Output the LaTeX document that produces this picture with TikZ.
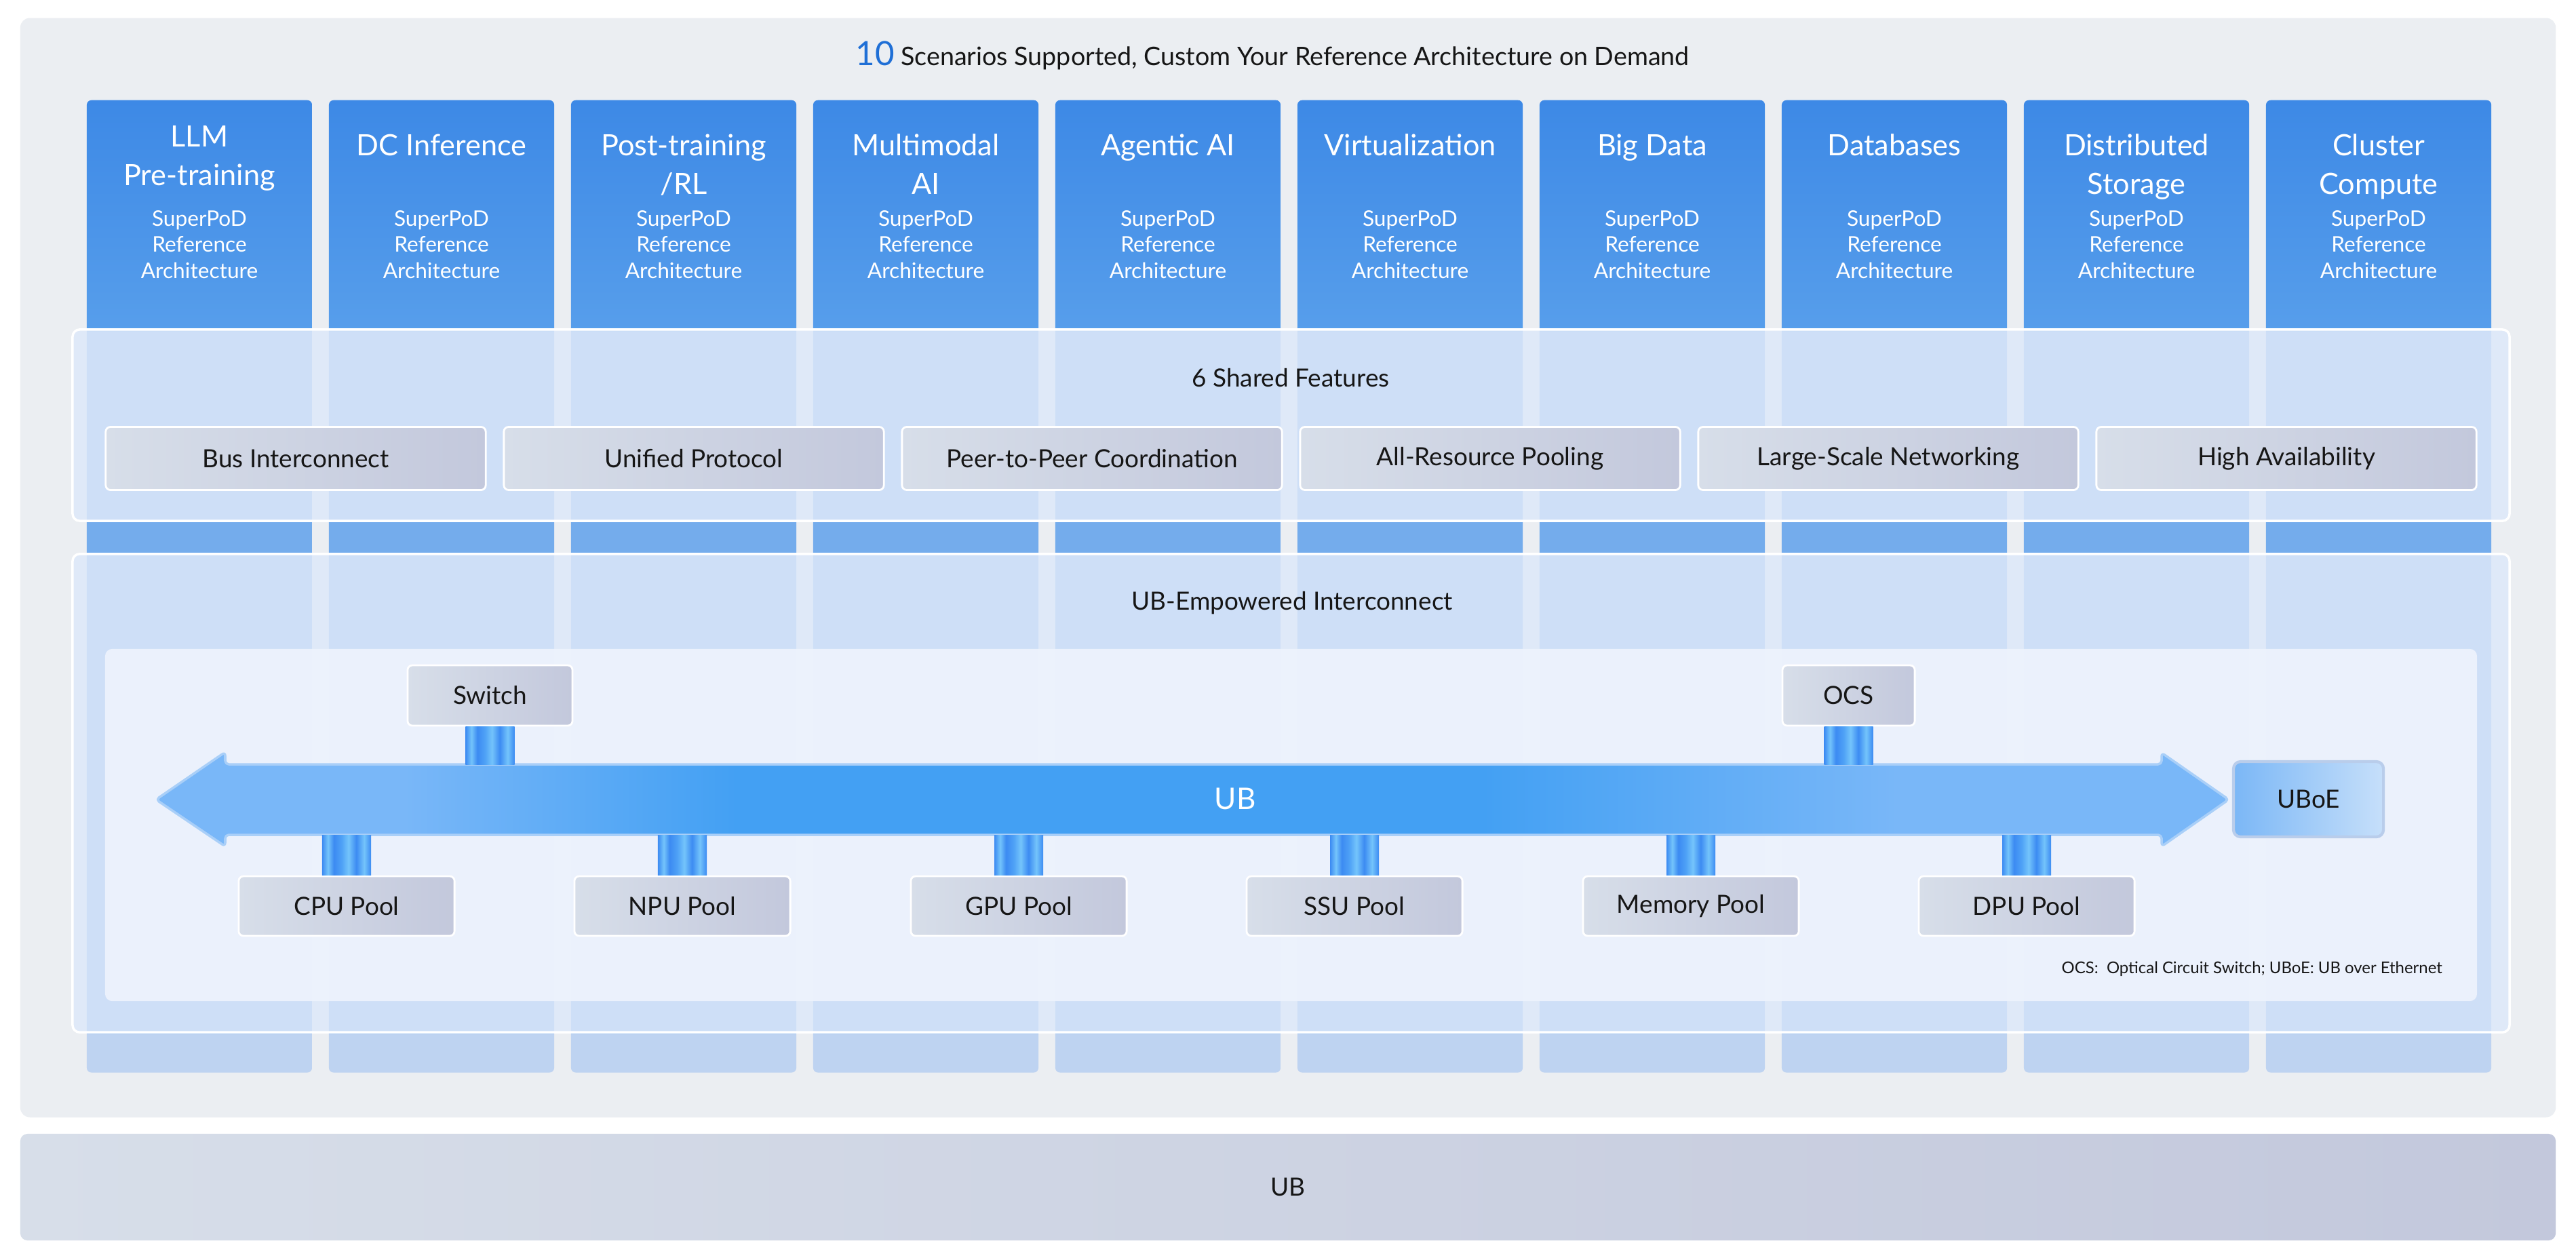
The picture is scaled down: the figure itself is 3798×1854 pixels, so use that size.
\documentclass[tikz,border=0pt]{standalone}
\usepackage{fontspec}
\setmainfont{Lato}
\usetikzlibrary{positioning,fadings}

\definecolor{pagegray}{HTML}{EBEEF2}
\definecolor{coltop}{HTML}{3D89E6}
\definecolor{colmid}{HTML}{579EEB}
\definecolor{colpale}{HTML}{74ACEC}
\definecolor{colfade}{HTML}{BED3F1}
\definecolor{panelblue}{HTML}{DEE9FA}
\definecolor{innerblue}{HTML}{EEF3FD}
\definecolor{boxleft}{HTML}{D7DEE9}
\definecolor{boxright}{HTML}{C3C8DC}
\definecolor{ublight}{HTML}{79B7F8}
\definecolor{ubdark}{HTML}{43A0F3}
\definecolor{ubedge}{HTML}{A9CFF8}
\definecolor{ubstreak}{HTML}{72D2FD}
\definecolor{stubdark}{HTML}{3C8BF2}
\definecolor{stubmid}{HTML}{4FA2F6}
\definecolor{stublight}{HTML}{74C4FB}
\definecolor{uboeleft}{HTML}{7BB7F6}
\definecolor{uboeright}{HTML}{C6DFFA}
\definecolor{uboeedge}{HTML}{B9CDEB}
\definecolor{numblue}{HTML}{1F6FD6}
\definecolor{ink}{HTML}{161616}

% column body: dark top, pale middle, faded foot
\pgfdeclareverticalshading{colshade}{100bp}{%
  color(0bp)=(colfade); color(27.02bp)=(colfade);
  color(27.03bp)=(colpale); color(63.1bp)=(colpale);
  color(63.11bp)=(colmid); color(75bp)=(coltop); color(100bp)=(coltop)}
% UB bus body
\pgfdeclarehorizontalshading{ubshade}{100bp}{%
  color(0bp)=(ublight); color(31bp)=(ublight); color(39bp)=(ubdark);
  color(57bp)=(ubdark); color(67bp)=(ublight); color(100bp)=(ublight)}
% striped link stubs
\pgfdeclarehorizontalshading{stubshade}{100bp}{%
  color(0bp)=(stubdark); color(25bp)=(stubdark); color(31bp)=(stublight);
  color(37bp)=(stubdark); color(45bp)=(stubmid); color(52bp)=(stublight);
  color(60bp)=(stubdark); color(68bp)=(stublight); color(75bp)=(stubdark);
  color(100bp)=(stubdark)}
\tikzfading[name=streakfade, left color=transparent!100,
  middle color=transparent!0, right color=transparent!100]

\begin{document}
\begin{tikzpicture}[x=0.01cm, y=-0.01cm,
    mystage/.style={fill=pagegray, rounded corners=4pt, inner sep=0pt,
      minimum width=37.36cm, minimum height=16.2cm},
    mycol/.style={shading=colshade, rounded corners=2pt, anchor=north,
      inner sep=0pt, minimum width=3.32cm, minimum height=14.33cm},
    mytitle/.style={font=\fontsize{12.3}{16.2}\selectfont, text=white,
      align=center, anchor=north, inner sep=0pt},
    mysub/.style={font=\fontsize{9}{10.9}\selectfont, text=white,
      align=center, anchor=north, inner sep=0pt},
    mypanel/.style={fill=panelblue, fill opacity=0.85, draw=white,
      line width=1pt, rounded corners=3pt, inner sep=0pt,
      minimum width=35.91cm},
    mylabel/.style={font=\fontsize{10.5}{12}\selectfont, text=ink},
    mybox/.style={left color=boxleft, right color=boxright, draw=white,
      line width=0.8pt, rounded corners=2pt, inner sep=0pt,
      font=\fontsize{10.5}{12}\selectfont, text=ink},
    myfeat/.style={mybox, minimum width=5.6cm, minimum height=0.93cm},
    mypool/.style={mybox, minimum width=3.18cm, minimum height=0.88cm},
    mystub/.style={shading=stubshade},
    myarrow/.style={shading=ubshade, draw=ubedge, line width=1pt,
      rounded corners=1.5pt, line join=round},
    mystreak/.style={fill=ubstreak, opacity=0.7, path fading=streakfade}
]
    \fill[white] (0,0) rectangle (3798,1854);
    \useasboundingbox (0,0) rectangle (3798,1854);

    % Backdrop
    \node[mystage] (stage) at (1899,837) {};
    \node[mylabel, font=\fontsize{10.7}{12}\selectfont] (heading) at (1876,82)
      {{\color{numblue}\fontsize{14}{16}\selectfont 10} Scenarios Supported, Custom Your Reference Architecture on Demand};

    % Scenario columns
    \node[mycol] (c1) at (294,147) {};
    \node[mycol] (c2) at (651,147) {};
    \node[mycol] (c3) at (1008,147) {};
    \node[mycol] (c4) at (1365,147) {};
    \node[mycol] (c5) at (1722,147) {};
    \node[mycol] (c6) at (2079,147) {};
    \node[mycol] (c7) at (2436,147) {};
    \node[mycol] (c8) at (2793,147) {};
    \node[mycol] (c9) at (3150,147) {};
    \node[mycol] (c10) at (3507,147) {};

    \node[mytitle] (t1) at (294,185) {LLM\\Pre-training};
    \node[mytitle] (t2) at (651,197) {DC Inference};
    \node[mytitle] (t3) at (1008,197) {Post-training\\/RL};
    \node[mytitle] (t4) at (1365,197) {Multimodal\\AI};
    \node[mytitle] (t5) at (1722,197) {Agentic AI};
    \node[mytitle] (t6) at (2079,197) {Virtualization};
    \node[mytitle] (t7) at (2436,197) {Big Data};
    \node[mytitle] (t8) at (2793,197) {Databases};
    \node[mytitle] (t9) at (3150,197) {Distributed\\Storage};
    \node[mytitle] (t10) at (3507,197) {Cluster\\Compute};

    \node[mysub] (r1) at (294,310) {SuperPoD\\Reference\\Architecture};
    \node[mysub] (r2) at (651,310) {SuperPoD\\Reference\\Architecture};
    \node[mysub] (r3) at (1008,310) {SuperPoD\\Reference\\Architecture};
    \node[mysub] (r4) at (1365,310) {SuperPoD\\Reference\\Architecture};
    \node[mysub] (r5) at (1722,310) {SuperPoD\\Reference\\Architecture};
    \node[mysub] (r6) at (2079,310) {SuperPoD\\Reference\\Architecture};
    \node[mysub] (r7) at (2436,310) {SuperPoD\\Reference\\Architecture};
    \node[mysub] (r8) at (2793,310) {SuperPoD\\Reference\\Architecture};
    \node[mysub] (r9) at (3150,310) {SuperPoD\\Reference\\Architecture};
    \node[mysub] (r10) at (3507,310) {SuperPoD\\Reference\\Architecture};

    % Shared features
    \node[mypanel, minimum height=2.82cm] (shared) at (1903.5,627) {};
    \node[mylabel] (sharedtitle) at (1903,557) {6 Shared Features};
    \node[myfeat] (f1) at (436,676) {Bus Interconnect};
    \node[myfeat] (f2) at (1023,676) {Unified Protocol};
    \node[myfeat] (f3) at (1610,676) {Peer-to-Peer Coordination};
    \node[myfeat] (f4) at (2197,676) {All-Resource Pooling};
    \node[myfeat] (f5) at (2784,676) {Large-Scale Networking};
    \node[myfeat] (f6) at (3371,676) {High Availability};

    % UB-empowered interconnect
    \node[mypanel, minimum height=7.05cm] (inter) at (1903.5,1169.5) {};
    \node[mylabel] (intertitle) at (1905,889) {UB-Empowered Interconnect};
    \node[fill=innerblue, fill opacity=0.93, rounded corners=3pt, inner sep=0pt,
      minimum width=34.95cm, minimum height=5.19cm] (inner) at (1903.5,1216.5) {};

    % UB bus
    \coordinate (shafttop) at (1758,1127);
    \coordinate (shaftbot) at (1758,1231);
    \draw[myarrow] (230,1179) -- (332,1109) -- (332,1127) -- (3187,1127)
      -- (3187,1110) -- (3286,1179) -- (3187,1248) -- (3187,1231)
      -- (332,1231) -- (332,1248) -- cycle;
    \fill[mystreak] (700,1153) rectangle (1800,1161);
    \fill[mystreak] (1650,1164) rectangle (3000,1172);
    \fill[mystreak] (1200,1193) rectangle (2550,1202);
    \fill[mystreak] (600,1215) rectangle (3100,1223);
    \node[font=\fontsize{12.5}{14}\selectfont, text=white] (ub) at (1821,1178) {UB};

    \node[mypool, minimum width=2.43cm, minimum height=0.89cm] (sw) at (722.5,1025.5) {Switch};
    \node[mypool, minimum width=1.95cm, minimum height=0.89cm] (ocs) at (2725.5,1025.5) {OCS};
    \node[left color=uboeleft, right color=uboeright, draw=uboeedge, line width=1.2pt,
      rounded corners=3pt, minimum width=2.21cm, minimum height=1.11cm,
      font=\fontsize{10.5}{12}\selectfont, text=ink] (uboe) at (3403.5,1178.5) {UBoE};

    \node[mypool] (p1) at (511,1336) {CPU Pool};
    \node[mypool] (p2) at (1006,1336) {NPU Pool};
    \node[mypool] (p3) at (1502,1336) {GPU Pool};
    \node[mypool] (p4) at (1997,1336) {SSU Pool};
    \node[mypool] (p5) at (2493,1336) {Memory Pool};
    \node[mypool] (p6) at (2988,1336) {DPU Pool};

    % Links into the bus
    \path[mystub] ([xshift=-0.36cm]sw.south) rectangle ([xshift=0.36cm]sw.south |- shafttop);
    \path[mystub] ([xshift=-0.36cm]ocs.south) rectangle ([xshift=0.36cm]ocs.south |- shafttop);
    \path[mystub] ([xshift=-0.36cm]p1.north) rectangle ([xshift=0.36cm]p1.north |- shaftbot);
    \path[mystub] ([xshift=-0.36cm]p2.north) rectangle ([xshift=0.36cm]p2.north |- shaftbot);
    \path[mystub] ([xshift=-0.36cm]p3.north) rectangle ([xshift=0.36cm]p3.north |- shaftbot);
    \path[mystub] ([xshift=-0.36cm]p4.north) rectangle ([xshift=0.36cm]p4.north |- shaftbot);
    \path[mystub] ([xshift=-0.36cm]p5.north) rectangle ([xshift=0.36cm]p5.north |- shaftbot);
    \path[mystub] ([xshift=-0.36cm]p6.north) rectangle ([xshift=0.36cm]p6.north |- shaftbot);

    \node[anchor=east, font=\fontsize{6.8}{8}\selectfont, text=ink] (note) at (3613,1429)
      {OCS:\ \ Optical Circuit Switch; UBoE: UB over Ethernet};

    % Base bar
    \node[left color=boxleft, right color=boxright, rounded corners=3pt,
      minimum width=37.36cm, minimum height=1.57cm, font=\fontsize{10.5}{12}\selectfont,
      text=ink] (base) at (1899,1750.5) {UB};
\end{tikzpicture}
\end{document}
